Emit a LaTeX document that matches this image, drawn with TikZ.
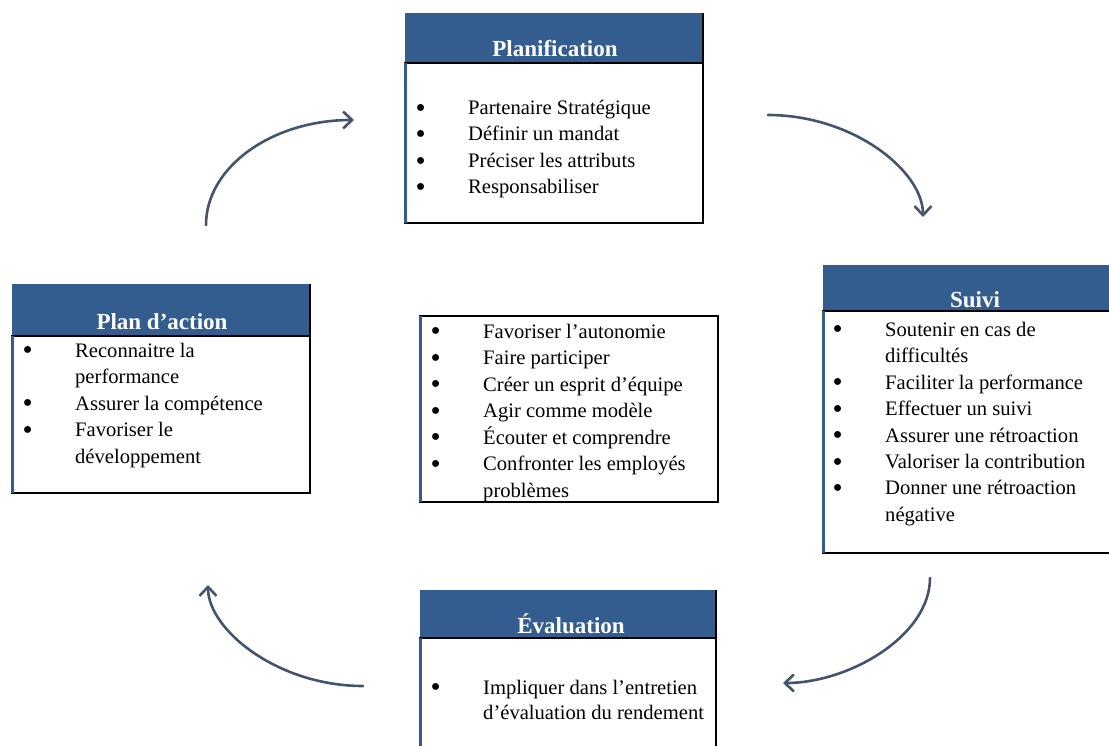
\documentclass[tikz,border=0pt]{standalone}
\usepackage{fontspec}
\setmainfont{Liberation Serif}
\usetikzlibrary{arrows.meta}
\definecolor{hdrblue}{HTML}{345D8F}
\definecolor{arrowc}{HTML}{44546A}
\newcommand{\bul}{\raisebox{-2.6pt}{\scalebox{1.4}{\textbullet}}}
\begin{document}
\begin{tikzpicture}[x=1pt,y=-1pt,
 hdr/.style={fill=hdrblue, draw=none, inner sep=0pt, outer sep=0pt, anchor=north west},
 bodybox/.style={draw=black, line width=1.6pt, fill=white, inner sep=0pt, outer sep=0pt, anchor=north west},
 ttl/.style={text=white, font=\fontsize{23}{26}\selectfont\bfseries, anchor=base, inner sep=0pt},
 lst/.style={font=\fontsize{20.6}{#1}\selectfont, anchor=base west, inner sep=0pt, align=left},
 lst/.default=26.5,
 edgeR/.style={draw=black, line width=1.6pt},
 edgeL/.style={draw=hdrblue, line width=3pt},
 arr/.style={draw=arrowc, line width=2.6pt, -{Straight Barb[length=9pt,width=17pt]}, line cap=round}]
\useasboundingbox (0,0) rectangle (1109,746);
\clip (0,0) rectangle (1109,746);
\fill[white] (0,0) rectangle (1109,746);

% Planification
\node[hdr, minimum width=298pt, minimum height=50pt] (Ph) at (405,13) {};
\node[bodybox, minimum width=298pt, minimum height=160pt] (Pb) at (405,63) {};
\draw[edgeR] (Ph.north east) -- (Pb.north east);
\draw[edgeL] (Pb.north west) -- (Pb.south west);
\node[ttl] (Pt) at (555,57) {Planification};
\node[lst] (Pl) at (415.5,114.5) {\begin{tabular}[t]{@{}p{52.5pt}@{}l@{}}
\bul & Partenaire Stratégique\\
\bul & Définir un mandat\\
\bul & Préciser les attributs\\
\bul & Responsabiliser
\end{tabular}};

% Suivi
\node[hdr, minimum width=292pt, minimum height=46pt] (Sh) at (823,265) {};
\node[bodybox, minimum width=292pt, minimum height=242pt] (Sb) at (823,311) {};
\draw[edgeL] (Sb.north west) -- (Sb.south west);
\node[ttl] (St) at (975,307) {Suivi};
\node[lst] (Sl) at (832.5,336) {\begin{tabular}[t]{@{}p{52.5pt}@{}l@{}}
\bul & Soutenir en cas de\\
 & difficultés\\
\bul & Faciliter la performance\\
\bul & Effectuer un suivi\\
\bul & Assurer une rétroaction\\
\bul & Valoriser la contribution\\
\bul & Donner une rétroaction\\
 & négative
\end{tabular}};

% Plan d'action
\node[hdr, minimum width=298pt, minimum height=52pt] (Ah) at (12,284) {};
\node[bodybox, minimum width=298pt, minimum height=157pt] (Ab) at (12,336) {};
\draw[edgeR] (Ah.north east) -- (Ab.north east);
\draw[edgeL] (Ab.north west) -- (Ab.south west);
\node[ttl] (At) at (162,329) {Plan d’action};
\node[lst] (Al) at (22.5,357) {\begin{tabular}[t]{@{}p{52.5pt}@{}l@{}}
\bul & Reconnaitre la\\
 & performance\\
\bul & Assurer la compétence\\
\bul & Favoriser le\\
 & développement
\end{tabular}};

% Centre
\node[bodybox, minimum width=298pt, minimum height=186pt] (Cb) at (420,316) {};
\draw[edgeL] (Cb.north west) -- (Cb.south west);
\node[lst] (Cl) at (430.5,338) {\begin{tabular}[t]{@{}p{52.5pt}@{}l@{}}
\bul & Favoriser l’autonomie\\
\bul & Faire participer\\
\bul & Créer un esprit d’équipe\\
\bul & Agir comme modèle\\
\bul & Écouter et comprendre\\
\bul & Confronter les employés\\
 & problèmes
\end{tabular}};

% Evaluation
\node[hdr, minimum width=296pt, minimum height=48pt] (Eh) at (420,590) {};
\node[bodybox, minimum width=296pt, minimum height=130pt] (Eb) at (420,638) {};
\draw[edgeR] (Eh.north east) -- (Eb.north east);
\draw[edgeL] (Eb.north west) -- (Eb.south west);
\node[ttl] (Et) at (571,633) {Évaluation};
\node[lst=25] (El) at (430.5,694) {\begin{tabular}[t]{@{}p{52.5pt}@{}l@{}}
\bul & Impliquer dans l’entretien\\
 & d’évaluation du rendement
\end{tabular}};

% Arrows
\coordinate (a1s) at (206,225); \coordinate (a1e) at (354,120);
\coordinate (a2s) at (768,115); \coordinate (a2e) at (923,217);
\coordinate (a3s) at (930,578); \coordinate (a3e) at (783,683);
\coordinate (a4s) at (363,686); \coordinate (a4e) at (208,585);
\draw[arr] (a1s) .. controls (206,167) and (272,120) .. (a1e);
\draw[arr] (a2s) .. controls (853,115) and (923,171) .. (a2e);
\draw[arr] (a3s) .. controls (930,636) and (849,683) .. (a3e);
\draw[arr] (a4s) .. controls (278,686) and (208,630) .. (a4e);
\end{tikzpicture}
\end{document}
